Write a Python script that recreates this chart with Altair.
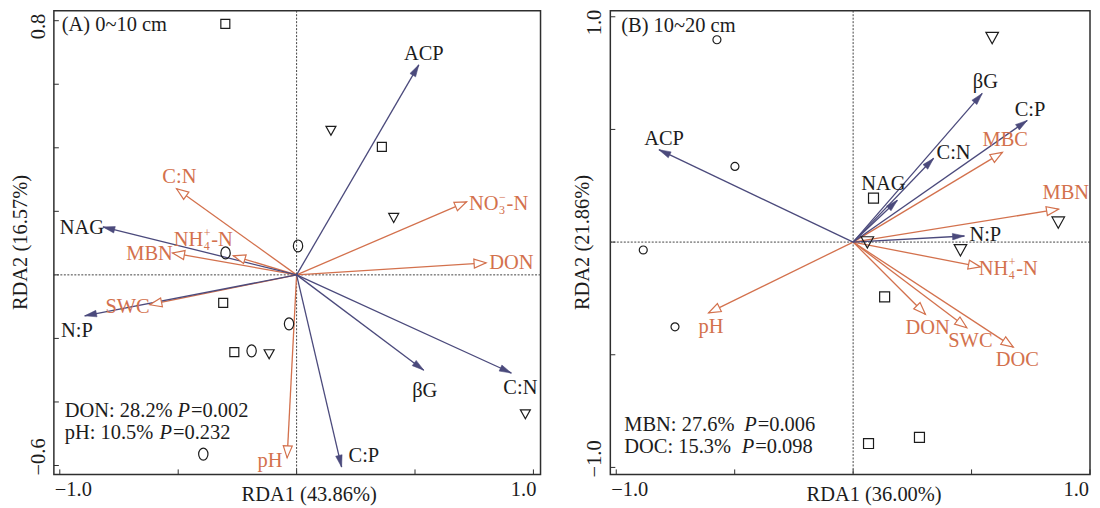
import math
import altair as alt
import pandas as pd

FONT = "Liberation Serif"
FS = 20.5
BLUE = "#4b4a7c"
ORANGE = "#d3714d"
INK = "#1c1c1c"
FRAME = "#2e2e2e"
ZERO = "#444444"

# ---------------- Panel A data ----------------
a_tag = "(A) 0~10 cm"
a_xtitle = "RDA1 (43.86%)"
a_ytitle = "RDA2 (16.57%)"
a_xdom = [-1.025, 1.03]
a_ydom = [-0.628, 0.8315]
a_xlabels = [-1.0, 1.0]
a_ylabels = [0.8, -0.6]
a_xticks = [-1.0, -0.5, 0.0, 0.5, 1.0]
a_yticks = [-0.6, -0.4, -0.2, 0.0, 0.2, 0.4, 0.6, 0.8]
a_tag_x, a_tag_y = -0.992, 0.787

a_site_shape = ["square", "tri", "square", "tri", "ellipse", "ellipse", "square",
                "ellipse", "square", "ellipse", "tri", "ellipse", "tri"]
a_site_x = [-0.301, 0.145, 0.36, 0.41, 0.006, -0.30, -0.31, -0.032, -0.263, -0.19, -0.116, -0.394, 0.966]
a_site_y = [0.79, 0.454, 0.403, 0.18, 0.091, 0.069, -0.088, -0.154, -0.243, -0.239, -0.249, -0.564, -0.438]

a_resp_name = ["ACP", "NAG", "N:P", "βG", "C:N", "C:P"]
a_resp_x = [0.516, -0.818, -0.895, 0.537, 0.907, 0.19]
a_resp_y = [0.661, 0.151, -0.129, -0.30, -0.309, -0.605]
a_resp_lx = [0.537, -0.907, -0.928, 0.541, 0.945, 0.284]
a_resp_ly = [0.696, 0.148, -0.176, -0.365, -0.356, -0.57]

a_env_name = ["C:N", "NH4+-N", "MBN", "SWC", "pH", "NO3--N", "DON"]
a_env_x = [-0.507, -0.267, -0.524, -0.62, -0.04, 0.718, 0.80]
a_env_y = [0.271, 0.06, 0.069, -0.094, -0.576, 0.23, 0.038]

a_envlab_text = ["C:N", "MBN", "SWC", "pH", "DON"]
a_envlab_x = [-0.495, -0.621, -0.714, -0.112, 0.907]
a_envlab_y = [0.309, 0.066, -0.101, -0.586, 0.038]

a_chem_main = ["NH", "NO"]
a_chem_sub = ["4", "3"]
a_chem_sup = ["+", "−"]
a_chem_tail = ["-N", "-N"]
a_chem_x = [-0.394, 0.853]
a_chem_y = [0.091, 0.205]

a_stat_prefix = ["DON: 28.2%", "pH: 10.5%"]
a_stat_p = ["P", "P"]
a_stat_suffix = ["=0.002", "=0.232"]
a_stat_x = [-0.979, -0.979]
a_stat_px = [-0.503, -0.579]
a_stat_y = [-0.447, -0.517]

# ---------------- Panel B data ----------------
b_tag = "(B) 10~20 cm"
b_xtitle = "RDA1 (36.00%)"
b_ytitle = "RDA2 (21.86%)"
b_xdom = [-1.025, 1.0]
b_ydom = [-1.031, 1.027]
b_xlabels = [-1.0, 1.0]
b_ylabels = [1.0, -1.0]
b_xticks = [-1.0, -0.5, 0.0, 0.5, 1.0]
b_yticks = [-1.0, -0.5, 0.0, 0.5, 1.0]
b_tag_x, b_tag_y = -0.979, 0.96

b_site_shape = ["circle", "tri", "circle", "square", "tri", "tri", "tri",
                "circle", "circle", "square", "square", "square"]
b_site_x = [-0.575, 0.587, -0.499, 0.086, 0.866, 0.06, 0.453, -0.886, -0.752, 0.133, 0.065, 0.28]
b_site_y = [0.898, 0.907, 0.336, 0.195, 0.088, 0.0, -0.035, -0.035, -0.376, -0.243, -0.894, -0.867]

b_resp_name = ["ACP", "βG", "C:P", "C:N", "NAG", "N:P"]
b_resp_x = [-0.82, 0.545, 0.735, 0.34, 0.187, 0.47]
b_resp_y = [0.41, 0.66, 0.54, 0.372, 0.186, 0.027]
b_resp_lx = [-0.798, 0.558, 0.747, 0.424, 0.128, 0.558]
b_resp_ly = [0.456, 0.712, 0.588, 0.394, 0.257, 0.031]

b_env_name = ["MBC", "MBN", "NH4+-N", "DON", "SWC", "DOC", "pH"]
b_env_x = [0.63, 0.867, 0.537, 0.305, 0.48, 0.676, -0.61]
b_env_y = [0.398, 0.146, -0.11, -0.32, -0.38, -0.466, -0.314]

b_envlab_text = ["MBC", "MBN", "DON", "SWC", "DOC", "pH"]
b_envlab_x = [0.642, 0.898, 0.315, 0.495, 0.693, -0.6]
b_envlab_y = [0.451, 0.217, -0.38, -0.438, -0.522, -0.376]

b_chem_main = ["NH"]
b_chem_sub = ["4"]
b_chem_sup = ["+"]
b_chem_tail = ["-N"]
b_chem_x = [0.655]
b_chem_y = [-0.146]

b_stat_prefix = ["MBN: 27.6%", "DOC: 15.3%"]
b_stat_p = ["P", "P"]
b_stat_suffix = ["=0.006", "=0.098"]
b_stat_x = [-0.966, -0.966]
b_stat_px = [-0.46, -0.47]
b_stat_y = [-0.838, -0.935]

# ---------------- styling ----------------
PATHS = {
    "ellipse": "M0,-1A0.78,1,0,1,1,0,1A0.78,1,0,1,1,0,-1Z",
    "tri": "M-1,-0.85L1,-0.85L0,0.95Z",
    "square": "square",
    "circle": "circle",
}
A_SIZES = {"ellipse": 144, "tri": 100, "square": 81, "circle": 64}
B_SIZES = {"ellipse": 144, "tri": 159, "square": 100, "circle": 64}
HEAD_BLUE = "M0,0L-0.55,2L0.55,2Z"
HEAD_ORANGE = "M0,0L-0.75,2L0.75,2Z"


def fmt(v):
    return f"{v:.1f}".replace("-", "−")


def head_angles(xs, ys, W, H, xdom, ydom):
    sx = W / (xdom[1] - xdom[0])
    sy = H / (ydom[1] - ydom[0])
    return [math.degrees(math.atan2(x * sx, y * sy)) % 360 for x, y in zip(xs, ys)]


def make_panel(W, H, xdom, ydom, xtitle, xtitle_dx, ytitle, ytitle_x, xlabels, ylabels,
               xticks, yticks, tag, tag_x, tag_y, site_shape, site_x, site_y, sizes,
               resp_name, resp_x, resp_y, resp_lx, resp_ly,
               env_name, env_x, env_y, envlab_text, envlab_x, envlab_y,
               chem_main, chem_sub, chem_sup, chem_tail, chem_x, chem_y,
               stat_prefix, stat_p, stat_suffix, stat_x, stat_px, stat_y, hi_dx):
    xs = alt.Scale(domain=xdom, nice=False, zero=False)
    ys = alt.Scale(domain=ydom, nice=False, zero=False)

    def X(f):
        return alt.X(f, scale=xs, axis=None)

    def Y(f):
        return alt.Y(f, scale=ys, axis=None)

    txt = dict(font=FONT, fontSize=FS)

    # inward ticks (only those inside the plotted range)
    xt = alt.Chart(pd.DataFrame({"t": [t for t in xticks if xdom[0] <= t <= xdom[1]]})).mark_rule(
        color=FRAME, strokeWidth=1).encode(x=X("t:Q"), y=alt.value(H), y2=alt.value(H - 5))
    yt = alt.Chart(pd.DataFrame({"t": yticks})).mark_rule(color=FRAME, strokeWidth=1).encode(
        y=Y("t:Q"), x=alt.value(0), x2=alt.value(5))

    # tick labels (only the two end values are labelled)
    xl = pd.DataFrame({"v": xlabels, "t": [fmt(v) for v in xlabels]})
    xl_lo = alt.Chart(xl[xl.v < 0]).mark_text(align="left", baseline="alphabetic", color=INK,
                                              dx=-5, **txt).encode(
        x=X("v:Q"), y=alt.value(H + 22), text="t:N")
    xl_hi = alt.Chart(xl[xl.v > 0]).mark_text(align="right", baseline="alphabetic", color=INK,
                                              dx=hi_dx, **txt).encode(
        x=X("v:Q"), y=alt.value(H + 22), text="t:N")
    yl = pd.DataFrame({"v": ylabels, "t": [fmt(v) for v in ylabels]})
    yl_hi = alt.Chart(yl[yl.v > 0]).mark_text(align="right", baseline="alphabetic", angle=270,
                                              color=INK, dx=7, **txt).encode(
        y=Y("v:Q"), x=alt.value(-9), text="t:N")
    yl_lo = alt.Chart(yl[yl.v < 0]).mark_text(align="left", baseline="alphabetic", angle=270,
                                              color=INK, dx=-10, **txt).encode(
        y=Y("v:Q"), x=alt.value(-9), text="t:N")

    # axis titles
    ttl = pd.DataFrame({"xt": [xtitle], "yt": [ytitle]})
    xtt = alt.Chart(ttl).mark_text(align="center", baseline="alphabetic", color=INK, **txt).encode(
        x=alt.value(W / 2 + xtitle_dx), y=alt.value(H + 27), text="xt:N")
    ytt = alt.Chart(ttl).mark_text(align="center", baseline="alphabetic", angle=270, color=INK,
                                   **txt).encode(
        x=alt.value(ytitle_x), y=alt.value(H / 2), text="yt:N")

    z = pd.DataFrame({"z": [0.0]})
    zx = alt.Chart(z).mark_rule(color=ZERO, strokeWidth=1, strokeDash=[2, 1.5]).encode(x=X("z:Q"))
    zy = alt.Chart(z).mark_rule(color=ZERO, strokeWidth=1, strokeDash=[2, 1.5]).encode(y=Y("z:Q"))

    sites = pd.DataFrame({"s": site_shape, "x": site_x, "y": site_y})
    sites["sz"] = [sizes[s] for s in site_shape]
    shp_dom = list(PATHS.keys())
    pts = alt.Chart(sites).mark_point(filled=False, stroke=INK, strokeWidth=1.2, opacity=1).encode(
        x=X("x:Q"), y=Y("y:Q"),
        shape=alt.Shape("s:N", scale=alt.Scale(domain=shp_dom, range=[PATHS[k] for k in shp_dom]),
                        legend=None),
        size=alt.Size("sz:Q", scale=None))

    resp = pd.DataFrame({"n": resp_name, "x": resp_x, "y": resp_y, "o": 0.0,
                         "a": head_angles(resp_x, resp_y, W, H, xdom, ydom)})
    env = pd.DataFrame({"n": env_name, "x": env_x, "y": env_y, "o": 0.0,
                        "a": head_angles(env_x, env_y, W, H, xdom, ydom)})

    env_line = alt.Chart(env).mark_rule(color=ORANGE, strokeWidth=1.3).encode(
        x=X("o:Q"), y=Y("o:Q"), x2="x:Q", y2="y:Q")
    resp_line = alt.Chart(resp).mark_rule(color=BLUE, strokeWidth=1.3).encode(
        x=X("o:Q"), y=Y("o:Q"), x2="x:Q", y2="y:Q")
    env_head = alt.Chart(env).mark_point(shape=HEAD_ORANGE, filled=True, fill="white",
                                         stroke=ORANGE, strokeWidth=1.2, size=144, opacity=1).encode(
        x=X("x:Q"), y=Y("y:Q"), angle=alt.Angle("a:Q", scale=None))
    resp_head = alt.Chart(resp).mark_point(shape=HEAD_BLUE, filled=True, fill=BLUE, stroke=BLUE,
                                           strokeWidth=0.5, size=144, opacity=1).encode(
        x=X("x:Q"), y=Y("y:Q"), angle=alt.Angle("a:Q", scale=None))

    resp_lab = alt.Chart(pd.DataFrame({"t": resp_name, "x": resp_lx, "y": resp_ly})).mark_text(
        align="center", baseline="middle", color=INK, **txt).encode(x=X("x:Q"), y=Y("y:Q"), text="t:N")
    env_lab = alt.Chart(pd.DataFrame({"t": envlab_text, "x": envlab_x, "y": envlab_y})).mark_text(
        align="center", baseline="middle", color=ORANGE, **txt).encode(x=X("x:Q"), y=Y("y:Q"), text="t:N")

    chem = pd.DataFrame({"m": chem_main, "b": chem_sub, "p": chem_sup, "r": chem_tail,
                         "x": chem_x, "y": chem_y})
    cbase = alt.Chart(chem)
    c1 = cbase.mark_text(align="right", baseline="alphabetic", color=ORANGE, **txt).encode(
        x=X("x:Q"), y=Y("y:Q"), text="m:N")
    c2 = cbase.mark_text(align="left", baseline="alphabetic", color=ORANGE, font=FONT, fontSize=12,
                         dx=0.5, dy=4).encode(x=X("x:Q"), y=Y("y:Q"), text="b:N")
    c3 = cbase.mark_text(align="left", baseline="alphabetic", color=ORANGE, font=FONT, fontSize=12,
                         dx=0.5, dy=-9).encode(x=X("x:Q"), y=Y("y:Q"), text="p:N")
    c4 = cbase.mark_text(align="left", baseline="alphabetic", color=ORANGE, **txt, dx=8).encode(
        x=X("x:Q"), y=Y("y:Q"), text="r:N")

    st = pd.DataFrame({"a": stat_prefix, "p": stat_p, "s": stat_suffix, "x": stat_x,
                       "px": stat_px, "y": stat_y})
    sbase = alt.Chart(st)
    s1 = sbase.mark_text(align="left", baseline="alphabetic", color=INK, **txt).encode(
        x=X("x:Q"), y=Y("y:Q"), text="a:N")
    s2 = sbase.mark_text(align="left", baseline="alphabetic", color=INK, fontStyle="italic", **txt).encode(
        x=X("px:Q"), y=Y("y:Q"), text="p:N")
    s3 = sbase.mark_text(align="left", baseline="alphabetic", color=INK, dx=13.5, **txt).encode(
        x=X("px:Q"), y=Y("y:Q"), text="s:N")

    tg = alt.Chart(pd.DataFrame({"t": [tag], "x": [tag_x], "y": [tag_y]})).mark_text(
        align="left", baseline="middle", color=INK, **txt).encode(x=X("x:Q"), y=Y("y:Q"), text="t:N")

    return alt.layer(xt, yt, zx, zy, env_line, resp_line, pts, env_head, resp_head,
                     resp_lab, env_lab, c1, c2, c3, c4, s1, s2, s3, tg,
                     xl_lo, xl_hi, yl_hi, yl_lo, xtt, ytt).properties(width=W, height=H)


WA, WB, H = 488, 481, 465
panel_a = make_panel(WA, H, a_xdom, a_ydom, a_xtitle, 12, a_ytitle, -27, a_xlabels, a_ylabels,
                     a_xticks, a_yticks, a_tag, a_tag_x, a_tag_y,
                     a_site_shape, a_site_x, a_site_y, A_SIZES,
                     a_resp_name, a_resp_x, a_resp_y, a_resp_lx, a_resp_ly,
                     a_env_name, a_env_x, a_env_y, a_envlab_text, a_envlab_x, a_envlab_y,
                     a_chem_main, a_chem_sub, a_chem_sup, a_chem_tail, a_chem_x, a_chem_y,
                     a_stat_prefix, a_stat_p, a_stat_suffix, a_stat_x, a_stat_px, a_stat_y, 3)
panel_b = make_panel(WB, H, b_xdom, b_ydom, b_xtitle, 24, b_ytitle, -21, b_xlabels, b_ylabels,
                     b_xticks, b_yticks, b_tag, b_tag_x, b_tag_y,
                     b_site_shape, b_site_x, b_site_y, B_SIZES,
                     b_resp_name, b_resp_x, b_resp_y, b_resp_lx, b_resp_ly,
                     b_env_name, b_env_x, b_env_y, b_envlab_text, b_envlab_x, b_envlab_y,
                     b_chem_main, b_chem_sub, b_chem_sup, b_chem_tail, b_chem_x, b_chem_y,
                     b_stat_prefix, b_stat_p, b_stat_suffix, b_stat_x, b_stat_px, b_stat_y, -1)

chart = alt.hconcat(panel_a, panel_b, spacing=30).properties(
    padding={"left": 2, "top": 0, "right": 0, "bottom": 0},
    background="white",
).configure_view(stroke=FRAME, strokeWidth=1.5)

chart.save("out.html", embed_options={"renderer": "svg", "actions": False})
